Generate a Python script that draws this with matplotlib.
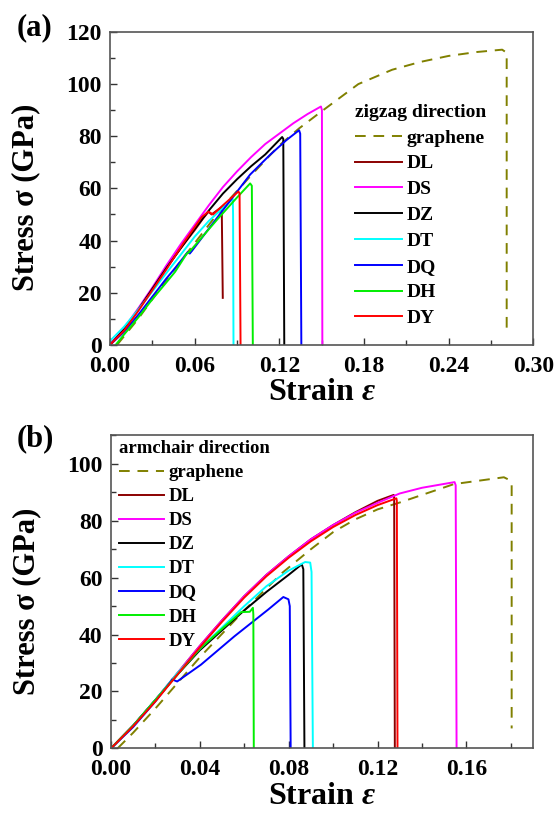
import matplotlib

matplotlib.use("Agg")
import matplotlib.pyplot as plt
from matplotlib.ticker import FormatStrFormatter, MultipleLocator

plt.rcParams["font.family"] = ["Liberation Serif", "DejaVu Serif"]
plt.rcParams["font.weight"] = "bold"
plt.rcParams["axes.labelweight"] = "bold"
plt.rcParams["mathtext.fontset"] = "custom"
plt.rcParams["mathtext.it"] = "Liberation Serif:italic:bold"
plt.rcParams["mathtext.rm"] = "Liberation Serif:bold"

LABELS = ["DL", "DS", "DZ", "DT", "DQ", "DH", "DY"]
COLORS = ["#8b0000", "#ff00ff", "#000000", "#00ffff", "#0000ff", "#00ee00", "#ff0000"]
GRAPHENE_COLOR = "#808000"

# ---- (a) zigzag direction: strain / stress (GPa) ----
zz_graphene_x = [0.005, 0.02, 0.04, 0.06, 0.08, 0.09, 0.10, 0.12, 0.134, 0.1496, 0.176,
                 0.20, 0.22, 0.24, 0.26, 0.278, 0.2812, 0.2812]
zz_graphene_y = [0, 10, 25, 39, 53, 59, 65, 76.5, 83, 89.4, 100,
                 105.5, 108.5, 110.8, 112.3, 113.2, 112, 5]

zz_x = {
    "DL": [0, 0.01, 0.02, 0.03, 0.04, 0.05, 0.06, 0.066, 0.0697, 0.072, 0.0785, 0.0792, 0.0799],
    "DS": [0, 0.01, 0.02, 0.03, 0.04, 0.05, 0.06, 0.07, 0.08, 0.09, 0.10, 0.11, 0.12, 0.13,
           0.14, 0.1495, 0.1502, 0.1505],
    "DZ": [0, 0.01, 0.02, 0.03, 0.04, 0.05, 0.06, 0.07, 0.08, 0.09, 0.10, 0.11, 0.122, 0.1228, 0.1235],
    "DT": [0, 0.01, 0.02, 0.03, 0.0426, 0.05, 0.06, 0.07, 0.08, 0.087, 0.0872, 0.0875],
    "DQ": [0, 0.01, 0.02, 0.03, 0.04, 0.0461, 0.055, 0.0565, 0.058, 0.0757, 0.0993, 0.1135,
           0.125, 0.134, 0.1348, 0.1356],
    "DH": [0.004, 0.01, 0.02, 0.03, 0.04, 0.0461, 0.0544, 0.056, 0.0757, 0.09, 0.0993,
           0.1005, 0.1012],
    "DY": [0, 0.01, 0.02, 0.03, 0.04, 0.052, 0.065, 0.0697, 0.073, 0.076, 0.08, 0.091,
           0.0918, 0.0925],
}
zz_y = {
    "DL": [0, 6, 13.5, 21.5, 29.5, 37, 44, 48.5, 51, 50, 52.6, 51, 18],
    "DS": [0, 6.5, 14, 22, 30.5, 38.5, 46, 53.5, 60.5, 66.5, 72, 77, 81, 85,
           88.5, 91.4, 90, 0],
    "DZ": [0, 6, 13.5, 21.5, 29.5, 37, 44.5, 51.5, 58, 63.5, 68.5, 73, 79.7, 79, 0],
    "DT": [1.5, 7, 13.5, 20.5, 29.4, 34.5, 41.5, 47.5, 52.5, 55.9, 50, 0],
    "DQ": [0, 5, 11.5, 18.5, 25.5, 29.4, 35.5, 35, 36, 48.6, 65.3, 72.9,
           78.5, 82.3, 81, 0],
    "DH": [0, 4, 10.5, 17.5, 24, 28, 35, 35.5, 47.9, 56.5, 61.9, 61, 0],
    "DY": [0, 5.5, 13, 21, 29, 39, 49, 51.1, 50, 51.5, 53.5, 58.8, 58, 0],
}

# ---- (b) armchair direction ----
ac_graphene_x = [0.003, 0.01, 0.02, 0.03, 0.04, 0.06, 0.0768, 0.09, 0.10, 0.11, 0.12, 0.1303,
                 0.1544, 0.1769, 0.1795, 0.1804, 0.1804]
ac_graphene_y = [0, 5.5, 14, 23, 32, 48.5, 61.5, 70, 76, 80.5, 84, 86.5,
                 92.9, 95.3, 94.3, 92.5, 7]

ac_x = {
    "DL": [0, 0.01, 0.02, 0.03, 0.04, 0.05, 0.06, 0.07, 0.08, 0.09, 0.10, 0.11, 0.12,
           0.1273, 0.1275, 0.1278],
    "DS": [0, 0.01, 0.02, 0.03, 0.04, 0.05, 0.06, 0.07, 0.08, 0.09, 0.10, 0.11, 0.12,
           0.13, 0.14, 0.1547, 0.1552, 0.1556],
    "DZ": [0, 0.01, 0.02, 0.03, 0.04, 0.05, 0.06, 0.07, 0.08, 0.0859, 0.0866, 0.0871],
    "DT": [0, 0.01, 0.02, 0.03, 0.04, 0.05, 0.06, 0.07, 0.08, 0.0874, 0.0897, 0.0903, 0.0909],
    "DQ": [0, 0.01, 0.02, 0.0265, 0.0276, 0.0298, 0.0405, 0.0556, 0.0708, 0.0776, 0.0799,
           0.0805, 0.0809],
    "DH": [0, 0.01, 0.02, 0.03, 0.04, 0.05, 0.0586, 0.0625, 0.0639, 0.0641, 0.0643],
    "DY": [0, 0.01, 0.02, 0.03, 0.04, 0.05, 0.06, 0.07, 0.08, 0.09, 0.10, 0.11, 0.12,
           0.1285, 0.1287, 0.129],
}
ac_y = {
    "DL": [0, 8, 17, 26.5, 36, 45, 53.5, 61, 67.5, 73.5, 78.5, 83, 87, 89.1, 88, 0],
    "DS": [0, 8, 17, 26.5, 36, 45, 53.5, 61, 67.5, 73.5, 78.5, 82.8, 86.3,
           89.6, 91.6, 93.6, 92.5, 0],
    "DZ": [0, 8, 17, 26, 34.5, 41.5, 48.5, 55, 61, 64.7, 63, 0],
    "DT": [0, 8, 17, 26.5, 35, 42.5, 50, 57, 62.5, 65.5, 65.3, 62, 0],
    "DQ": [0, 7.5, 16.5, 23, 24.2, 23.5, 29.4, 39.4, 48.8, 53.2, 52.4, 50, 0],
    "DH": [0, 8, 17, 26, 35, 42, 47.9, 48, 49.4, 47, 0],
    "DY": [0, 7.8, 16.5, 26, 35.5, 44.5, 53, 60.5, 67, 72.8, 77.8, 82, 85.5, 87.9, 87, 0],
}


def style_axes(ax, xmax, xmajor, ymax):
    ax.set_xlim(0, xmax)
    ax.set_ylim(0, ymax)
    ax.xaxis.set_major_locator(MultipleLocator(xmajor))
    ax.xaxis.set_minor_locator(MultipleLocator(xmajor / 2))
    ax.yaxis.set_major_locator(MultipleLocator(20))
    ax.yaxis.set_minor_locator(MultipleLocator(10))
    ax.xaxis.set_major_formatter(FormatStrFormatter("%.2f"))
    ax.tick_params(which="both", direction="in", top=False, right=False,
                   labelsize=17, width=1.0, color="#333")
    ax.tick_params(which="major", length=5)
    ax.tick_params(which="minor", length=3.5)
    ax.tick_params(axis="x", pad=8)
    ax.tick_params(axis="y", pad=6)
    for sp in ax.spines.values():
        sp.set_color("#555")
        sp.set_linewidth(1.2)
    ax.set_xlabel(r"Strain $\varepsilon$", fontsize=23, labelpad=1)
    ax.set_ylabel("Stress σ (GPa)", fontsize=22)
    ax.yaxis.set_label_coords(-0.165, 0.47)


def draw_panel(ax, gx, gy, xs, ys):
    ax.plot(gx, gy, color=GRAPHENE_COLOR, lw=1.4, ls=(0, (5.5, 4)), label="graphene")
    for lab, col in zip(LABELS, COLORS):
        ax.plot(xs[lab], ys[lab], color=col, lw=1.4, label=lab)


fig = plt.figure(figsize=(5.56, 8.19), dpi=100)
ax1 = fig.add_axes([0.198, 0.579, 0.761, 0.382])
ax2 = fig.add_axes([0.1996, 0.0863, 0.759, 0.382])

draw_panel(ax1, zz_graphene_x, zz_graphene_y, zz_x, zz_y)
style_axes(ax1, 0.30, 0.06, 120)
leg1 = ax1.legend(title="zigzag direction", loc="upper left", bbox_to_anchor=(0.579, 0.77),
                  frameon=False, fontsize=14, title_fontsize=14, handlelength=2.4,
                  handletextpad=0.25, labelspacing=0.42, borderaxespad=0, borderpad=0,
                  alignment="left")
leg1.get_title().set_fontweight("bold")

draw_panel(ax2, ac_graphene_x, ac_graphene_y, ac_x, ac_y)
style_axes(ax2, 0.19, 0.04, 110)
leg2 = ax2.legend(title="armchair direction", loc="upper left", bbox_to_anchor=(0.019, 0.985),
                  frameon=False, fontsize=13.5, title_fontsize=13.5, handlelength=2.4,
                  handletextpad=0.25, labelspacing=0.37, borderaxespad=0, borderpad=0,
                  alignment="left")
leg2.get_title().set_fontweight("bold")

fig.text(0.03, 0.957, "(a)", fontsize=22, fontweight="bold")
fig.text(0.03, 0.455, "(b)", fontsize=22, fontweight="bold")

fig.savefig("out.png", dpi=100, facecolor="white")
